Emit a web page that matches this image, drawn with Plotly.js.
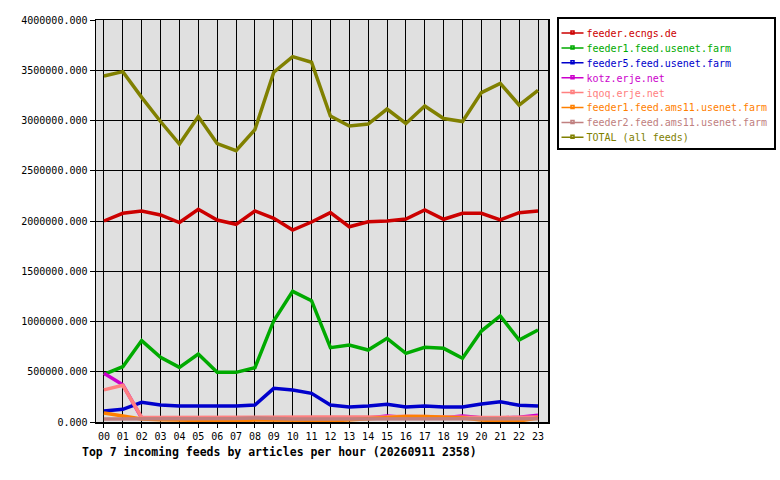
<!DOCTYPE html>
<html>
<head>
<meta charset="utf-8">
<script src="https://cdn.plot.ly/plotly-3.0.1.min.js"></script>
<style>
  body { margin: 0; background: #ffffff; }
  #chart { width: 780px; height: 480px; }
</style>
</head>
<body>
<div id="chart"></div>
<script>
const hours = ["00","01","02","03","04","05","06","07","08","09","10","11",
               "12","13","14","15","16","17","18","19","20","21","22","23"];

const feeds = ["feeder.ecngs.de", "feeder1.feed.usenet.farm", "feeder5.feed.usenet.farm",
               "kotz.erje.net", "iqoq.erje.net", "feeder1.feed.ams11.usenet.farm",
               "feeder2.feed.ams11.usenet.farm", "TOTAL (all feeds)"];

const colors = ["#cc0000", "#00aa00", "#0000cc", "#cc00cc", "#ff8080", "#ff8000", "#c08080", "#808000"];

const ecngs = [2000000, 2077000, 2100000, 2060000, 1985000, 2116000, 2010000, 1967000,
               2100000, 2027000, 1910000, 1990000, 2083000, 1943000, 1993000, 2000000,
               2020000, 2110000, 2017000, 2077000, 2077000, 2010000, 2083000, 2100000];
const feeder1 = [475000, 550000, 810000, 644000, 544000, 677000, 494000, 494000,
                 540000, 1008000, 1300000, 1207000, 740000, 766000, 716000, 833000,
                 683000, 743000, 733000, 634000, 905000, 1055000, 816000, 915000];
const feeder5 = [109000, 126000, 196000, 169000, 159000, 159000, 166000, 159000,
                 169000, 335000, 318000, 285000, 169000, 149000, 159000, 176000,
                 149000, 159000, 149000, 149000, 179000, 202000, 166000, 159000];
const kotz = [485000, 370000, 40000, 38000, 38000, 38000, 38000, 38000,
              38000, 38000, 38000, 38000, 38000, 38000, 40000, 60000,
              45000, 42000, 42000, 60000, 42000, 40000, 48000, 68000];
const iqoq = [320000, 365000, 45000, 45000, 45000, 45000, 45000, 45000,
              45000, 45000, 45000, 45000, 45000, 45000, 45000, 52000,
              58000, 55000, 45000, 45000, 45000, 45000, 45000, 50000];
const ams11a = [90000, 60000, 30000, 22000, 20000, 18000, 10000, 10000,
                20000, 20000, 20000, 18000, 10000, 20000, 30000, 40000,
                55000, 55000, 50000, 40000, 20000, 10000, 10000, 40000];
const ams11b = [30000, 30000, 30000, 30000, 30000, 30000, 30000, 35000,
                40000, 32000, 30000, 30000, 30000, 30000, 30000, 32000,
                32000, 32000, 30000, 30000, 32000, 30000, 30000, 32000];
const total = [3443000, 3486000, 3230000, 2990000, 2766000, 3040000, 2770000, 2700000,
               2910000, 3480000, 3635000, 3580000, 3045000, 2945000, 2965000, 3114000,
               2970000, 3144000, 3020000, 2990000, 3277000, 3370000, 3154000, 3300000];

const series = [ecngs, feeder1, feeder5, kotz, iqoq, ams11a, ams11b, total];
const mono = "DejaVu Sans Mono, monospace";

const traces = series.map((vals, i) => ({
    x: hours.map((h, k) => k),
    y: vals,
    type: 'scatter',
    mode: 'lines',
    name: '<span style="color:' + colors[i] + '">' + feeds[i] + '</span>',
    line: { color: colors[i], width: 3.5 },
    hoverinfo: 'skip'
}));

const layout = {
    width: 780,
    height: 480,
    paper_bgcolor: "#ffffff",
    plot_bgcolor: "#e0e0e0",
    margin: { l: 96, r: 232, t: 20, b: 58 },
    font: { family: mono, size: 10, color: "#000000" },
    showlegend: true,
    legend: {
        xref: 'container', yref: 'container',
        x: 557 / 780, xanchor: 'left', y: 1 - 17 / 480, yanchor: 'top',
        bgcolor: "#ffffff", bordercolor: "#000000", borderwidth: 1.5,
        font: { family: mono, size: 10 },
        tracegroupgap: 0, itemwidth: 30
    },
    xaxis: {
        range: [-0.42, 23.53],
        tickvals: hours.map((h, k) => k),
        ticktext: hours,
        showgrid: true, gridcolor: "#000000", gridwidth: 1,
        zeroline: false,
        showline: true, linecolor: "#000000", linewidth: 1.5, mirror: true,
        ticks: 'outside', ticklen: 4, tickcolor: "#000000",
        tickfont: { family: mono, size: 10 }
    },
    yaxis: {
        range: [0, 4000000],
        dtick: 500000,
        tickformat: '.3f',
        showgrid: true, gridcolor: "#000000", gridwidth: 1,
        zeroline: false,
        showline: true, linecolor: "#000000", linewidth: 1.5, mirror: true,
        ticks: 'outside', ticklen: 5, tickcolor: "#000000",
        tickfont: { family: mono, size: 10 }
    },
    annotations: [{
        xref: 'paper', yref: 'paper', x: -0.036, y: -0.075,
        xanchor: 'left', yanchor: 'middle', showarrow: false,
        text: '<b>Top 7 incoming feeds by articles per hour (20260911 2358)</b>',
        font: { family: mono, size: 11.5, color: "#000000" }
    }]
};

Plotly.newPlot("chart", traces, layout, { displayModeBar: false, staticPlot: true }).then(gd => {
    // tighten legend rows and sample lines to match the reference box
    const items = gd.querySelectorAll('.legend .traces');
    const step = 14.9;
    let first = null;
    items.forEach((el, i) => {
        const m = /translate\(([-\d.]+),\s*([-\d.]+)\)/.exec(el.getAttribute('transform') || '');
        if (!m) return;
        if (first === null) first = parseFloat(m[2]);
        el.setAttribute('transform', 'translate(' + m[1] + ',' + (first + step * i) + ')');
        el.querySelectorAll('.legendlines path').forEach(p => {
            p.setAttribute('d', 'M3,0h22M12.5,-2h3v3h-3z');
            p.style.strokeWidth = '1.5px';
            p.style.fill = 'none';
        });
        const txt = el.querySelector('.legendtext');
        if (txt) txt.setAttribute('x', 28);
        el.querySelectorAll('.legendtext tspan[x]').forEach(t => t.setAttribute('x', 28));
    });
    const bg = gd.querySelector('.legend rect.bg');
    if (bg && first !== null) {
        bg.setAttribute('height', first + step * (items.length - 1) + 11);
        bg.setAttribute('width', 217);
    }
});
</script>
</body>
</html>
